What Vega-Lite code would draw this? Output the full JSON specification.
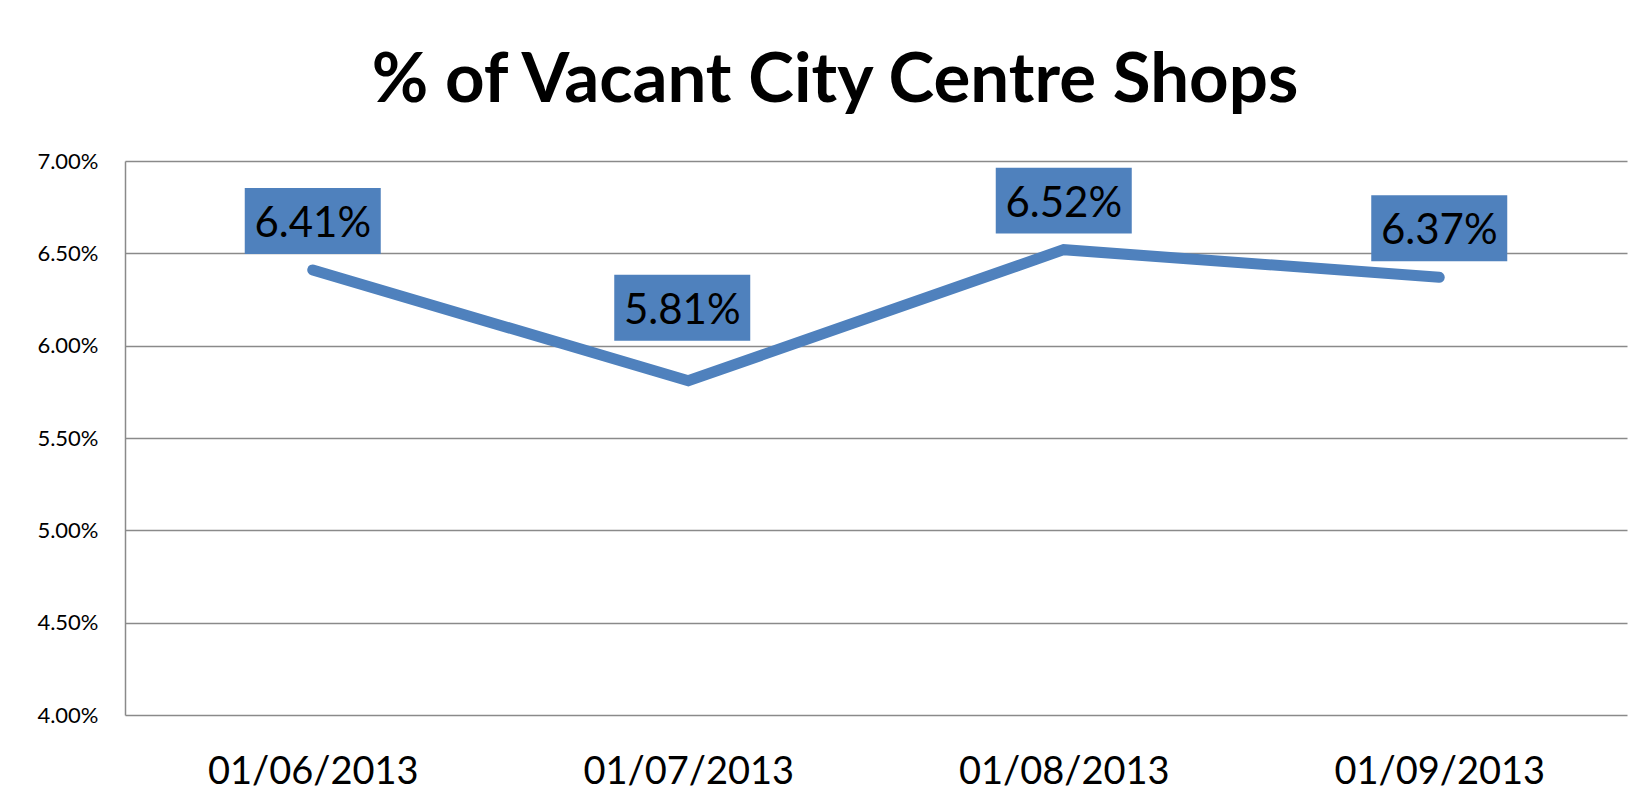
{
  "$schema": "https://vega.github.io/schema/vega-lite/v6.json",
  "width": 1502,
  "height": 554,
  "autosize": {"type": "none"},
  "padding": {"left": 125, "top": 161, "right": 3, "bottom": 77},
  "background": "white",
  "title": {
    "text": "% of Vacant City Centre Shops",
    "font": "Lato",
    "fontSize": 69,
    "fontWeight": "bold",
    "color": "#000000",
    "anchor": "middle",
    "frame": "group",
    "baseline": "alphabetic",
    "offset": 52,
    "dx": -41,
    "dy": 73
  },
  "data": {
    "values": [
      {"date": "01/06/2013", "pct": 0.0641},
      {"date": "01/07/2013", "pct": 0.0581},
      {"date": "01/08/2013", "pct": 0.0652},
      {"date": "01/09/2013", "pct": 0.0637}
    ]
  },
  "encoding": {
    "x": {
      "field": "date",
      "type": "ordinal",
      "sort": null,
      "scale": {"type": "point", "padding": 0.5},
      "axis": {
        "title": null,
        "labelAngle": 0,
        "labelFont": "Lato",
        "labelFontSize": 38,
        "labelColor": "#000000",
        "labelBaseline": "alphabetic",
        "labelPadding": 68,
        "labelLimit": 0,
        "ticks": false,
        "tickSize": 0,
        "domain": false,
        "grid": false
      }
    },
    "y": {
      "field": "pct",
      "type": "quantitative",
      "scale": {"domain": [0.04, 0.07], "nice": false, "zero": false},
      "axis": {
        "title": null,
        "format": ".2%",
        "values": [0.04, 0.045, 0.05, 0.055, 0.06, 0.065, 0.07],
        "labelFont": "Lato",
        "labelFontSize": 22,
        "labelColor": "#000000",
        "labelPadding": 27,
        "ticks": false,
        "tickSize": 0,
        "domain": true,
        "domainColor": "#8a8a8a",
        "domainWidth": 1.5,
        "grid": true,
        "gridColor": "#8a8a8a",
        "gridWidth": 1.5,
        "gridOpacity": 1
      }
    }
  },
  "layer": [
    {
      "mark": {"type": "line", "color": "#4F81BD", "strokeWidth": 11, "strokeCap": "round", "strokeJoin": "miter"}
    },
    {
      "transform": [{"filter": "datum.date != '01/07/2013'"}],
      "mark": {
        "type": "point",
        "shape": "M-1,-0.485H1V0.485H-1Z",
        "size": 18496,
        "filled": true,
        "fill": "#4F81BD",
        "opacity": 1,
        "strokeWidth": 0,
        "yOffset": -49
      }
    },
    {
      "transform": [{"filter": "datum.date != '01/07/2013'"}],
      "mark": {
        "type": "text",
        "font": "Lato",
        "fontSize": 42,
        "color": "#000000",
        "baseline": "alphabetic",
        "align": "center",
        "yOffset": -33
      },
      "encoding": {
        "text": {"field": "pct", "type": "quantitative", "format": ".2%"}
      }
    },
    {
      "transform": [{"filter": "datum.date == '01/07/2013'"}],
      "mark": {
        "type": "point",
        "shape": "M-1,-0.485H1V0.485H-1Z",
        "size": 18496,
        "filled": true,
        "fill": "#4F81BD",
        "opacity": 1,
        "strokeWidth": 0,
        "xOffset": -6,
        "yOffset": -73
      }
    },
    {
      "transform": [{"filter": "datum.date == '01/07/2013'"}],
      "mark": {
        "type": "text",
        "font": "Lato",
        "fontSize": 42,
        "color": "#000000",
        "baseline": "alphabetic",
        "align": "center",
        "xOffset": -6,
        "yOffset": -57
      },
      "encoding": {
        "text": {"field": "pct", "type": "quantitative", "format": ".2%"}
      }
    }
  ],
  "config": {
    "view": {"stroke": null}
  }
}
